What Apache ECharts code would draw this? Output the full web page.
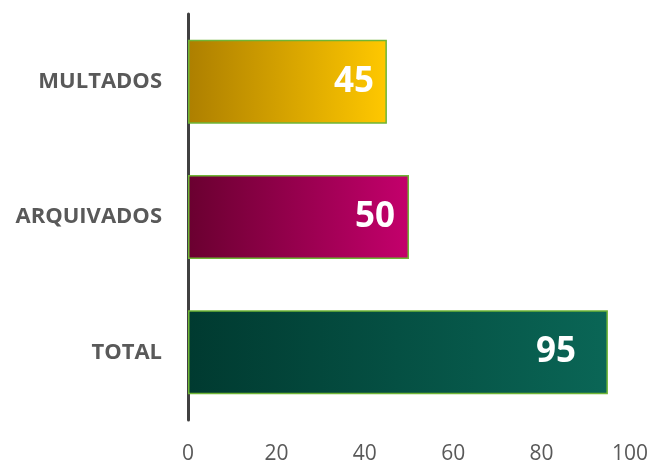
<!DOCTYPE html>
<html>
<head>
<meta charset="utf-8">
<script src="https://cdn.jsdelivr.net/npm/echarts@6/dist/echarts.min.js"></script>
<style>
  html, body { margin: 0; padding: 0; background: #fff; }
  #main { width: 653px; height: 465px; }
</style>
</head>
<body>
<div id="main"></div>
<script>
// categories bottom -> top
var categories = ['TOTAL', 'ARQUIVADOS', 'MULTADOS']
var values = [95, 50, 45]
var xTicks = [0, 20, 40, 60, 80, 100]
// left/right gradient stops per bar
var barColors = [
  ['#003a30', '#0a6656'],
  ['#6a0030', '#c4006c'],
  ['#ad7f00', '#ffc800']
]
// gap between value label and bar end
var labelGaps = [32, 14, 13]

var chart = echarts.init(document.getElementById('main'))

var seriesData = values.map(function(v, i) {
  return {
    value: v,
    itemStyle: {
      color: new echarts.graphic.LinearGradient(0, 0, 1, 0, [
        { offset: 0, color: barColors[i][0] },
        { offset: 1, color: barColors[i][1] }
      ])
    },
    label: { distance: labelGaps[i] }
  }
})

chart.setOption({
  animation: false,
  grid: {
    left: 188,
    right: 23,
    top: 14,
    bottom: 45
  },
  xAxis: {
    type: 'value',
    min: xTicks[0],
    max: xTicks[xTicks.length - 1],
    interval: 20,
    axisLine: { show: false },
    axisTick: { show: false },
    splitLine: { show: false },
    axisLabel: {
      margin: 24,
      color: '#595959',
      fontSize: 21,
      fontFamily: 'Open Sans'
    }
  },
  yAxis: {
    type: 'category',
    data: categories,
    axisTick: { show: false },
    axisLine: {
      show: true,
      lineStyle: { color: '#404040', width: 3 }
    },
    axisLabel: {
      margin: 26,
      color: '#595959',
      fontSize: 22,
      fontWeight: 'bold',
      fontFamily: 'Open Sans'
    }
  },
  series: [{
    type: 'bar',
    data: seriesData,
    barWidth: 84,
    itemStyle: {
      borderColor: '#6fb536',
      borderWidth: 1.5
    },
    label: {
      show: true,
      position: 'insideRight',
      color: '#fff',
      fontSize: 35,
      fontWeight: 'bold',
      fontFamily: 'Open Sans'
    }
  }]
})
</script>
</body>
</html>
